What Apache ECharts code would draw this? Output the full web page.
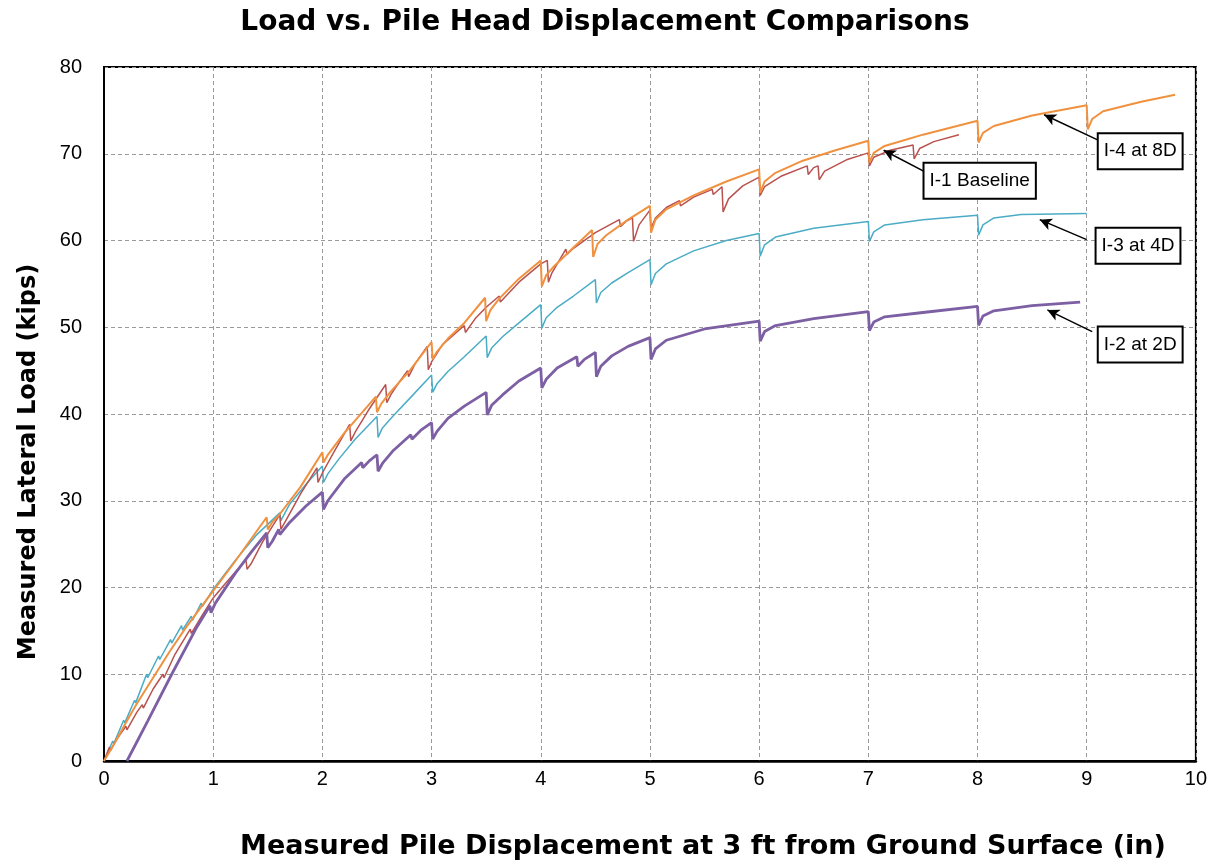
<!DOCTYPE html>
<html>
<head>
<meta charset="utf-8">
<title>Load vs. Pile Head Displacement Comparisons</title>
<script src="https://cdn.jsdelivr.net/npm/echarts@6/dist/echarts.min.js"></script>
<style>
  html, body { margin: 0; padding: 0; background: #fff; }
  #chart { width: 1210px; height: 865px; }
</style>
</head>
<body>
<div id="chart"></div>
<script>
// [displacement (in), load (kips)]
const i4at8D = [
  [0, 0], [0.1, 2.1], [0.2, 4.4], [0.3, 6.6], [0.47, 10.0], [0.6, 12.6], [0.74, 15.2], [0.88, 17.6], [1.0, 19.6],
  [1.2, 23.0], [1.49, 28.1], [1.5, 26.7], [1.54, 27.5], [1.6, 28.3], [1.8, 31.6], [2.0, 35.6], [2.01, 34.4],
  [2.05, 35.3], [2.2, 37.8], [2.49, 42.0], [2.5, 40.2], [2.54, 41.2], [2.62, 42.5], [2.8, 45.0], [3.0, 48.3],
  [3.01, 46.3], [3.05, 47.2], [3.15, 48.7], [3.3, 50.5], [3.49, 53.4], [3.5, 50.7], [3.54, 52.0], [3.62, 53.3],
  [3.8, 55.6], [4.0, 57.7], [4.01, 54.7], [4.05, 56.0], [4.12, 57.0], [4.3, 59.2], [4.47, 61.2], [4.48, 58.1],
  [4.52, 59.6], [4.6, 60.6], [4.8, 62.4], [5.0, 64.0], [5.01, 60.9], [5.05, 62.4], [5.15, 63.6], [5.4, 65.2],
  [5.7, 66.8], [6.0, 68.2], [6.01, 65.5], [6.05, 66.8], [6.15, 67.8], [6.4, 69.2], [6.7, 70.4], [7.0, 71.5],
  [7.01, 69.0], [7.05, 70.1], [7.15, 70.9], [7.5, 72.2], [8.0, 73.8], [8.01, 71.3], [8.05, 72.4], [8.15, 73.2],
  [8.5, 74.4], [9.0, 75.6], [9.01, 72.8], [9.05, 74.0], [9.15, 74.9], [9.5, 76.0], [9.81, 76.8]
]
const i1Baseline = [
  [0, 0], [0.05, 1.6], [0.06, 1.2], [0.1, 2.2], [0.2, 4.0], [0.21, 3.6], [0.3, 5.6], [0.35, 6.5], [0.36, 6.1],
  [0.45, 8.3], [0.54, 10.0], [0.55, 9.6], [0.65, 12.3], [0.79, 15.2], [0.8, 14.7], [0.9, 16.8], [1.0, 18.8],
  [1.1, 20.3], [1.3, 23.2], [1.31, 22.1], [1.35, 22.8], [1.45, 25.2], [1.61, 28.4], [1.62, 26.7], [1.66, 27.6],
  [1.8, 30.8], [1.95, 33.8], [1.96, 32.1], [2.0, 33.2], [2.1, 35.5], [2.25, 38.8], [2.26, 36.9], [2.3, 37.9],
  [2.42, 40.4], [2.58, 43.4], [2.59, 41.3], [2.63, 42.3], [2.7, 43.6], [2.78, 45.0], [2.79, 44.3], [2.85, 45.8],
  [2.96, 47.8], [2.97, 45.1], [3.0, 46.0], [3.1, 48.0], [3.3, 50.2], [3.31, 49.4], [3.4, 51.0], [3.5, 52.3],
  [3.62, 53.6], [3.63, 52.9], [3.8, 55.2], [4.0, 57.3], [4.06, 57.7], [4.07, 55.2], [4.1, 56.2], [4.23, 59.0],
  [4.24, 58.4], [4.3, 59.1], [4.5, 60.9], [4.72, 62.4], [4.73, 61.6], [4.78, 62.2], [4.84, 62.6], [4.85, 59.9],
  [4.9, 61.8], [5.0, 63.5], [5.01, 61.4], [5.05, 62.6], [5.15, 63.8], [5.27, 64.6], [5.28, 64.0], [5.4, 65.0],
  [5.57, 65.9], [5.58, 65.3], [5.66, 66.2], [5.67, 63.3], [5.72, 64.8], [5.85, 66.3], [6.0, 67.3], [6.01, 65.2],
  [6.05, 66.2], [6.2, 67.4], [6.44, 68.6], [6.45, 67.6], [6.5, 68.4], [6.54, 68.6], [6.55, 67.0], [6.6, 68.0],
  [6.8, 69.3], [7.0, 70.1], [7.01, 68.6], [7.05, 69.6], [7.2, 70.4], [7.41, 71.0], [7.42, 69.4], [7.47, 70.6],
  [7.6, 71.4], [7.83, 72.2]
]
const i3at4D = [
  [0, 0], [0.08, 2.3], [0.09, 2.0], [0.18, 4.7], [0.19, 4.4], [0.28, 7.0], [0.29, 6.7], [0.39, 10.0], [0.4, 9.6],
  [0.5, 12.1], [0.51, 11.7], [0.61, 14.0], [0.62, 13.6], [0.71, 15.6], [0.72, 15.1], [0.8, 16.7], [0.81, 16.2],
  [0.89, 18.2], [0.9, 17.8], [1.0, 19.8], [1.2, 23.1], [1.4, 26.1], [1.61, 28.6], [1.62, 27.7], [1.7, 29.6],
  [1.85, 31.9], [2.0, 34.0], [2.01, 32.1], [2.05, 33.1], [2.15, 34.8], [2.3, 37.1], [2.5, 39.7], [2.51, 37.3],
  [2.55, 38.4], [2.65, 39.8], [2.8, 41.8], [3.0, 44.5], [3.01, 42.5], [3.05, 43.5], [3.15, 44.9], [3.3, 46.6],
  [3.5, 49.0], [3.51, 46.5], [3.55, 47.6], [3.65, 48.9], [3.8, 50.5], [4.0, 52.6], [4.01, 49.9], [4.05, 51.1],
  [4.15, 52.3], [4.3, 53.6], [4.5, 55.5], [4.51, 52.8], [4.55, 54.0], [4.65, 55.1], [4.8, 56.3], [5.0, 57.8],
  [5.01, 54.9], [5.05, 56.2], [5.15, 57.3], [5.4, 58.8], [5.7, 60.0], [6.0, 60.8], [6.01, 58.2], [6.05, 59.5],
  [6.15, 60.4], [6.5, 61.4], [7.0, 62.2], [7.01, 59.9], [7.05, 61.0], [7.15, 61.8], [7.5, 62.4], [8.0, 62.9],
  [8.01, 60.6], [8.05, 61.8], [8.15, 62.6], [8.4, 63.0], [9.0, 63.1]
]
const i2at2D = [
  [0.21, 0], [0.4, 4.6], [0.62, 10.0], [0.84, 15.2], [0.97, 17.9], [0.98, 17.1], [1.02, 18.2], [1.2, 21.6],
  [1.35, 24.1], [1.49, 26.3], [1.5, 24.6], [1.54, 25.3], [1.6, 26.7], [1.61, 26.1], [1.7, 27.5], [1.85, 29.4],
  [2.0, 31.0], [2.01, 29.0], [2.05, 30.0], [2.2, 32.5], [2.36, 34.4], [2.37, 33.8], [2.43, 34.6], [2.5, 35.3],
  [2.51, 33.4], [2.55, 34.3], [2.65, 35.8], [2.81, 37.6], [2.82, 37.1], [2.9, 38.1], [3.0, 39.0], [3.01, 37.1],
  [3.05, 38.0], [3.15, 39.5], [3.3, 40.9], [3.5, 42.5], [3.51, 39.9], [3.55, 41.0], [3.65, 42.2], [3.8, 43.8],
  [4.0, 45.3], [4.01, 43.0], [4.05, 44.0], [4.15, 45.3], [4.33, 46.6], [4.34, 45.5], [4.4, 46.3], [4.5, 47.1],
  [4.51, 44.3], [4.55, 45.5], [4.65, 46.7], [4.8, 47.8], [5.0, 48.8], [5.01, 46.3], [5.05, 47.5], [5.15, 48.5],
  [5.5, 49.8], [6.0, 50.7], [6.01, 48.4], [6.05, 49.5], [6.15, 50.2], [6.5, 51.0], [7.0, 51.8], [7.01, 49.6],
  [7.05, 50.6], [7.15, 51.2], [7.5, 51.7], [8.0, 52.4], [8.01, 50.2], [8.05, 51.3], [8.15, 51.9], [8.5, 52.5],
  [8.94, 52.9]
]

// callouts: label text, box centre, arrow tail, arrow head (all in data units)
const notes = {
  'I-4 at 8D': { box: [9.49, 70.3], from: [9.1, 71.6], to: [8.61, 74.5] },
  'I-1 Baseline': { box: [8.02, 66.9], from: [7.55, 67.7], to: [7.14, 70.4] },
  'I-3 at 4D': { box: [9.47, 59.4], from: [9.0, 60.1], to: [8.57, 62.4] },
  'I-2 at 2D': { box: [9.49, 48.0], from: [9.05, 49.5], to: [8.64, 52.0] },
}

const chart = echarts.init(document.getElementById('chart'))

function curve(name, data, color, width) {
  const n = notes[name]
  return {
    name: name,
    type: 'line',
    data: data,
    showSymbol: false,
    smooth: false,
    animation: false,
    lineStyle: { color: color, width: width },
    markLine: {
      silent: true,
      symbol: ['none', 'arrow'],
      symbolSize: [9, 12],
      label: { show: false },
      lineStyle: { color: '#000', width: 1.5, type: 'solid' },
      data: [[{ coord: n.from }, { coord: n.to }]],
    },
    markPoint: {
      silent: true,
      symbol: 'rect',
      symbolSize: 1,
      itemStyle: { color: 'rgba(0,0,0,0)' },
      label: {
        show: true,
        position: 'inside',
        formatter: name,
        color: '#000',
        fontSize: 19,
        fontFamily: 'Liberation Sans',
        backgroundColor: '#fff',
        borderColor: '#000',
        borderWidth: 2,
        padding: [8, 5, 7, 5],
      },
      data: [{ coord: n.box }],
    },
  }
}

const bold = { fontFamily: 'DejaVu Sans', fontWeight: 'bold', color: '#000' }
const grid = { color: '#9a9a9a', type: [4, 3], width: 1 }

chart.setOption({
  backgroundColor: '#fff',
  animation: false,
  title: {
    text: 'Load vs. Pile Head Displacement Comparisons',
    left: 'center',
    top: 4,
    textStyle: Object.assign({ fontSize: 28 }, bold),
  },
  grid: {
    left: 104,
    right: 12,
    top: 67,
    bottom: 103,
    show: true,
    borderColor: '#000',
    borderWidth: 2,
  },
  xAxis: {
    type: 'value',
    min: 0,
    max: 10,
    interval: 1,
    name: 'Measured Pile Displacement at 3 ft from Ground Surface (in)',
    nameLocation: 'middle',
    nameGap: 72,
    nameTextStyle: Object.assign({ fontSize: 27, padding: [0, 0, 0, 106] }, bold),
    axisLine: { lineStyle: { color: '#000', width: 2.5 } },
    axisTick: { show: false },
    axisLabel: { color: '#000', fontSize: 20, fontFamily: 'Liberation Sans', margin: 8 },
    splitLine: { lineStyle: grid },
  },
  yAxis: {
    type: 'value',
    min: 0,
    max: 80,
    interval: 10,
    name: 'Measured Lateral Load (kips)',
    nameLocation: 'middle',
    nameGap: 63,
    nameTextStyle: Object.assign({ fontSize: 24, padding: [0, 96, 0, 0] }, bold),
    axisLine: { show: true, lineStyle: { color: '#000', width: 2 } },
    axisTick: { show: false },
    axisLabel: { color: '#000', fontSize: 20, fontFamily: 'Liberation Sans', margin: 22 },
    splitLine: { lineStyle: grid },
  },
  series: [
    curve('I-3 at 4D', i3at4D, '#4bacc6', 1.5),
    curve('I-1 Baseline', i1Baseline, '#b8524f', 1.5),
    curve('I-4 at 8D', i4at8D, '#f0913f', 2),
    curve('I-2 at 2D', i2at2D, '#7d5fa3', 2.8),
  ],
})
</script>
</body>
</html>
